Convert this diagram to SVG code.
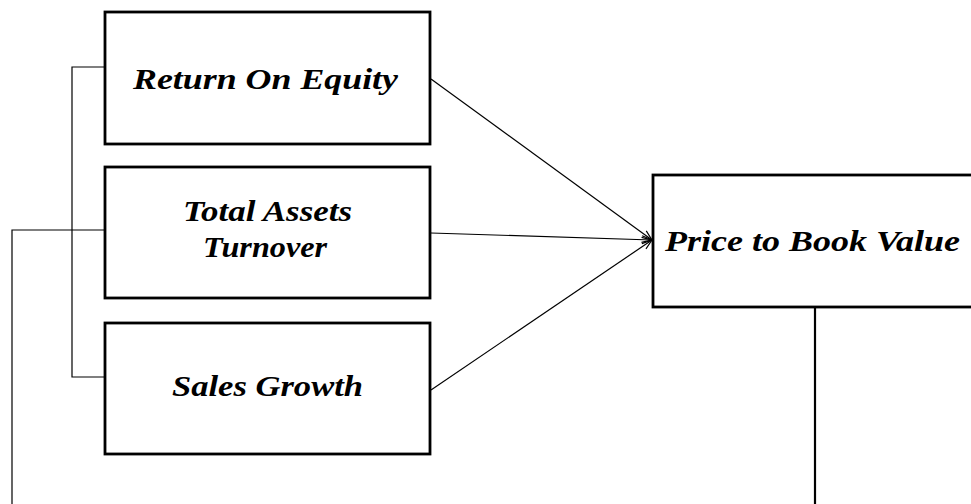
<svg xmlns="http://www.w3.org/2000/svg" width="971" height="504" viewBox="0 0 971 504">
  <style>
    .box { fill: #ffffff; stroke: #000000; stroke-width: 2.8; }
    .lbl { font-family: "Liberation Serif", "Times New Roman", serif; font-size: 30px; font-weight: bold; font-style: italic; fill: #000000; text-anchor: middle; }
    .wire { fill: none; stroke: #000000; stroke-width: 1.2; }
    .arrow { fill: none; stroke: #000000; stroke-width: 1.2; marker-end: url(#openHead); }
    .thick { fill: none; stroke: #000000; stroke-width: 2.2; }
  </style>
  <defs>
    <marker id="openHead" viewBox="0 0 12 10" refX="11" refY="5" markerWidth="12" markerHeight="10" markerUnits="userSpaceOnUse" orient="auto">
      <path d="M1,1 L11,5 L1,9" fill="none" stroke="#000000" stroke-width="1.2"/>
    </marker>
  </defs>
  <rect width="971" height="504" fill="#ffffff"/>

  <g id="connectors">
    <!-- bracket joining the three predictor boxes -->
    <polyline class="wire" points="105,67 72,67 72,377 105,377"/>
    <!-- long line from Total Assets Turnover down off the bottom edge -->
    <polyline class="wire" points="105,230 12,230 12,504"/>
    <!-- line down from Price to Book Value -->
    <line class="thick" x1="815" y1="307" x2="815" y2="504"/>
    <!-- arrows into Price to Book Value -->
    <line class="arrow" x1="431" y1="79" x2="652" y2="240"/>
    <line class="arrow" x1="431" y1="233" x2="652" y2="240"/>
    <line class="arrow" x1="431" y1="390" x2="652" y2="240"/>
  </g>

  <g id="roe">
    <rect class="box" x="105" y="12" width="325" height="132"/>
    <text class="lbl" x="265.5" y="89" textLength="265" lengthAdjust="spacingAndGlyphs">Return On Equity</text>
  </g>

  <g id="tat">
    <rect class="box" x="105" y="167" width="325" height="131"/>
    <text class="lbl" x="267.5" y="221" textLength="169" lengthAdjust="spacingAndGlyphs">Total Assets</text>
    <text class="lbl" x="265" y="257" textLength="124" lengthAdjust="spacingAndGlyphs">Turnover</text>
  </g>

  <g id="sg">
    <rect class="box" x="105" y="323" width="325" height="131"/>
    <text class="lbl" x="267.5" y="396" textLength="191" lengthAdjust="spacingAndGlyphs">Sales Growth</text>
  </g>

  <g id="pbv">
    <rect class="box" x="653" y="175" width="340" height="132"/>
    <text class="lbl" x="812.5" y="251" textLength="295" lengthAdjust="spacingAndGlyphs">Price to Book Value</text>
  </g>
</svg>
